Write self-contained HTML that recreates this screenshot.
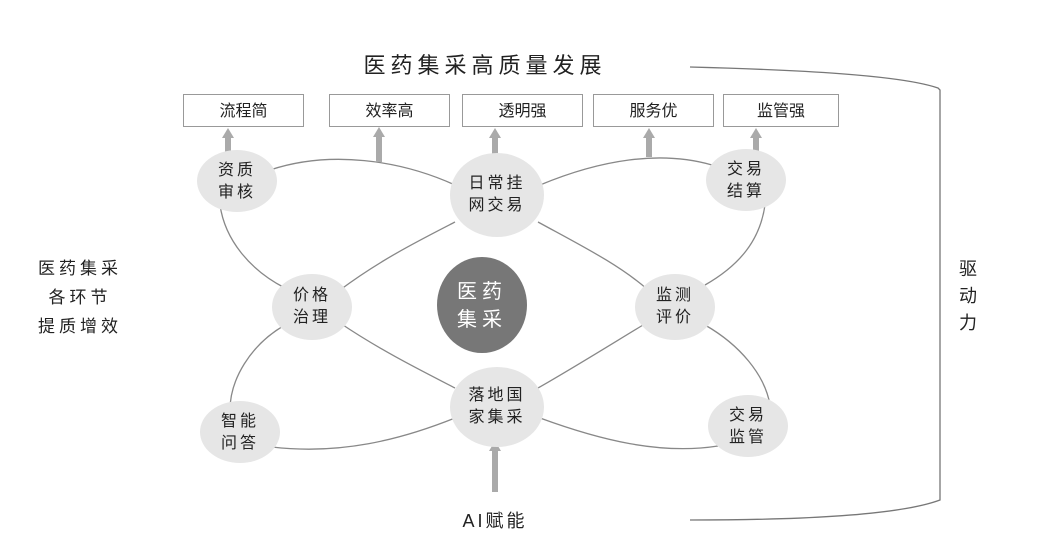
<!DOCTYPE html>
<html><head><meta charset="utf-8"><style>
html,body{margin:0;padding:0;background:#fff;}
body{width:1040px;height:545px;overflow:hidden;position:relative;font-family:"Liberation Sans","Noto Sans CJK SC",sans-serif;color:#222;}
.t{position:absolute;white-space:nowrap;text-align:center;}
.box{position:absolute;border:1px solid #999;height:33px;line-height:33px;text-align:center;font-size:16px;background:#fff;box-sizing:border-box;}
</style></head><body>
<svg width="1040" height="545" style="position:absolute;left:0;top:0">
<g fill="none" stroke="#888" stroke-width="1.3">
<path d="M270 170 C330 150 400 160 455 185"/>
<path d="M540 185 C600 160 660 150 712 165"/>
<path d="M220 205 C225 240 250 270 285 288"/>
<path d="M285 325 C250 345 230 380 230 410"/>
<path d="M340 290 C380 260 420 240 455 222"/>
<path d="M538 222 C580 245 620 265 648 290"/>
<path d="M340 323 C380 350 420 370 455 388"/>
<path d="M648 322 C610 345 570 370 538 388"/>
<path d="M272 447 C340 455 400 440 455 418"/>
<path d="M540 418 C600 440 660 455 718 446"/>
<path d="M765 205 C760 240 740 265 705 285"/>
<path d="M705 325 C740 345 765 375 770 405"/>
<path d="M690 67 C800 70 900 75 938 88 L940 90 L940 500 C900 515 800 520 690 520" stroke="#777"/>
</g>
<g fill="#aaa">
<rect x="225" y="137" width="6" height="20"/><polygon points="222,138 234,138 228,128"/>
<rect x="376" y="136" width="6" height="26"/><polygon points="373,137 385,137 379,127"/>
<rect x="492" y="137" width="6" height="20"/><polygon points="489,138 501,138 495,128"/>
<rect x="646" y="137" width="6" height="20"/><polygon points="643,138 655,138 649,128"/>
<rect x="753" y="137" width="6" height="14"/><polygon points="750,138 762,138 756,128"/>
<rect x="492" y="450" width="6" height="42"/><polygon points="489,451 501,451 495,441"/>
</g>
<g fill="#e6e6e6">
<ellipse cx="237" cy="181" rx="40" ry="31"/>
<ellipse cx="497" cy="195" rx="47" ry="42"/>
<ellipse cx="746" cy="180" rx="40" ry="31"/>
<ellipse cx="312" cy="307" rx="40" ry="33"/>
<ellipse cx="675" cy="307" rx="40" ry="33"/>
<ellipse cx="497" cy="407" rx="47" ry="40"/>
<ellipse cx="240" cy="432" rx="40" ry="31"/>
<ellipse cx="748" cy="426" rx="40" ry="31"/>
</g>
<ellipse cx="482" cy="305" rx="45" ry="48" fill="#777"/>
</svg>
<div class="t" style="left:330px;top:48px;width:310px;font-size:22px;letter-spacing:5px;">医药集采高质量发展</div>
<div class="box" style="left:183px;top:94px;width:121px;">流程简</div>
<div class="box" style="left:329px;top:94px;width:121px;">效率高</div>
<div class="box" style="left:462px;top:94px;width:121px;">透明强</div>
<div class="box" style="left:593px;top:94px;width:121px;">服务优</div>
<div class="box" style="left:723px;top:94px;width:116px;">监管强</div>
<div class="t" style="left:197px;top:160px;width:80px;font-size:16px;line-height:22px;letter-spacing:3px;">资质<br>审核</div>
<div class="t" style="left:450px;top:173px;width:94px;font-size:16px;line-height:22px;letter-spacing:3px;">日常挂<br>网交易</div>
<div class="t" style="left:706px;top:159px;width:80px;font-size:16px;line-height:22px;letter-spacing:3px;">交易<br>结算</div>
<div class="t" style="left:272px;top:285px;width:80px;font-size:16px;line-height:22px;letter-spacing:3px;">价格<br>治理</div>
<div class="t" style="left:437px;top:278px;width:90px;font-size:20px;line-height:28px;letter-spacing:5px;color:#fff;">医药<br>集采</div>
<div class="t" style="left:635px;top:285px;width:80px;font-size:16px;line-height:22px;letter-spacing:3px;">监测<br>评价</div>
<div class="t" style="left:450px;top:385px;width:94px;font-size:16px;line-height:22px;letter-spacing:3px;">落地国<br>家集采</div>
<div class="t" style="left:200px;top:411px;width:80px;font-size:16px;line-height:22px;letter-spacing:3px;">智能<br>问答</div>
<div class="t" style="left:708px;top:405px;width:80px;font-size:16px;line-height:22px;letter-spacing:3px;">交易<br>监管</div>
<div class="t" style="left:20px;top:254px;width:120px;font-size:17px;line-height:29px;letter-spacing:4px;">医药集采<br>各环节<br>提质增效</div>
<div class="t" style="left:440px;top:507px;width:110px;font-size:18px;letter-spacing:3px;">AI赋能</div>
<div class="t" style="left:955px;top:256px;width:26px;font-size:18px;line-height:27px;">驱<br>动<br>力</div>
</body></html>
